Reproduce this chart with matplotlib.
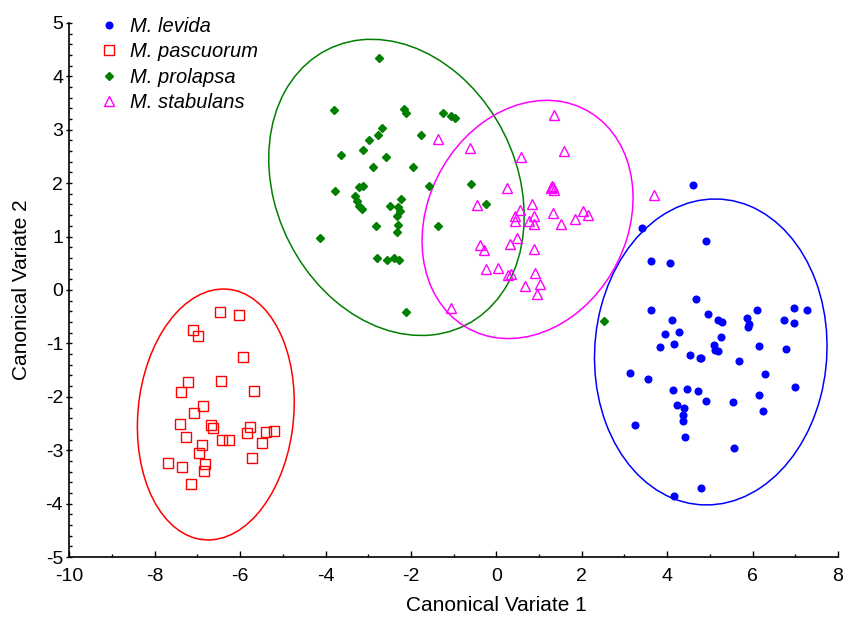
import matplotlib
matplotlib.use('Agg')
import matplotlib.pyplot as plt
from matplotlib.patches import Ellipse
from matplotlib.ticker import MultipleLocator

plt.rcParams['font.family'] = ['Liberation Sans', 'DejaVu Sans']
plt.rcParams['axes.unicode_minus'] = False

# canonical variate scores
levida_x = [4.61, 3.42, 4.90, 3.63, 4.06, 4.67, 3.63, 6.11, 6.97, 7.27, 4.96, 4.12, 5.18,
            5.29, 5.88, 5.92, 5.89, 6.73, 6.98, 3.96, 4.27, 5.25, 3.83, 4.16, 5.10, 5.11,
            5.19, 6.15, 6.78, 4.54, 4.76, 4.79, 5.67, 3.13, 6.28, 3.55, 4.14, 4.47, 4.71,
            6.99, 4.92, 5.55, 6.14, 4.22, 4.40, 6.24, 4.36, 4.36, 3.24, 4.42, 5.57, 4.79, 4.16]
levida_y = [1.96, 1.16, 0.91, 0.55, 0.50, -0.17, -0.38, -0.38, -0.34, -0.38, -0.45, -0.57, -0.57,
            -0.59, -0.52, -0.63, -0.70, -0.56, -0.62, -0.82, -0.78, -0.88, -1.07, -1.01, -1.03, -1.13,
            -1.15, -1.04, -1.10, -1.21, -1.27, -1.27, -1.33, -1.55, -1.57, -1.67, -1.87, -1.85, -1.89,
            -1.81, -2.07, -2.10, -1.97, -2.15, -2.20, -2.27, -2.34, -2.46, -2.52, -2.75, -2.95, -3.71, -3.85]

pascuorum_x = [-6.47, -6.02, -7.10, -6.99, -5.93, -7.22, -6.44, -7.39, -5.68, -6.87, -7.09,
               -7.40, -6.68, -6.64, -5.76, -5.83, -5.40, -5.21, -7.27, -6.43, -6.26, -5.49,
               -6.89, -6.96, -5.72, -7.69, -7.36, -6.82, -6.85, -7.16]
pascuorum_y = [-0.42, -0.47, -0.75, -0.86, -1.25, -1.72, -1.71, -1.90, -1.89, -2.18, -2.30,
               -2.50, -2.52, -2.59, -2.57, -2.67, -2.66, -2.63, -2.75, -2.81, -2.81, -2.86,
               -2.90, -3.05, -3.14, -3.23, -3.31, -3.26, -3.38, -3.64]

prolapsa_x = [-2.74, -3.80, -2.16, -2.12, -1.24, -1.06, -0.98, -2.68, -2.78, -2.98, -1.76,
              -3.12, -3.63, -2.59, -2.90, -1.96, -1.57, -3.79, -3.22, -3.13, -3.30, -3.27,
              -3.21, -3.15, -2.24, -2.49, -2.31, -2.26, -2.33, -2.31, -2.33, -2.81, -1.37,
              -4.12, -2.80, -2.56, -2.39, -2.29, -2.12, -0.59, -0.25, 2.52]
prolapsa_y = [4.35, 3.36, 3.38, 3.32, 3.32, 3.25, 3.22, 3.04, 2.91, 2.80, 2.91,
              2.62, 2.53, 2.49, 2.30, 2.30, 1.95, 1.86, 1.92, 1.95, 1.75, 1.67,
              1.58, 1.52, 1.71, 1.57, 1.55, 1.47, 1.39, 1.22, 1.08, 1.19, 1.20,
              0.97, 0.59, 0.57, 0.60, 0.56, -0.41, 1.98, 1.60, -0.58]

stabulans_x = [1.35, -1.36, -0.61, 1.59, 0.57, 0.26, 1.28, 1.32, 1.35, 1.31, -0.46, 0.83,
               0.56, 0.43, 0.43, 0.89, 0.77, 0.89, 1.33, 1.52, 1.83, 2.02, 2.14, 0.49,
               0.32, -0.38, -0.29, 0.89, -0.25, 0.03, 0.28, 0.35, 0.90, 0.66, 1.03, 0.95,
               -1.06, 3.69]
stabulans_y = [3.27, 2.82, 2.66, 2.61, 2.48, 1.91, 1.90, 1.92, 1.87, 1.95, 1.59, 1.60,
               1.50, 1.39, 1.30, 1.38, 1.29, 1.24, 1.45, 1.24, 1.32, 1.47, 1.40, 0.97,
               0.86, 0.84, 0.74, 0.77, 0.39, 0.41, 0.28, 0.30, 0.31, 0.08, 0.12, -0.08,
               -0.33, 1.78]

# confidence ellipses: centre x, centre y, full width, full height, angle (deg)
ell_levida = [5.02, -1.16, 5.76, 5.41, 71.7]
ell_pascuorum = [-6.57, -2.33, 4.73, 3.63, 79.3]
ell_prolapsa = [-2.34, 1.92, 6.34, 5.13, -34.3]
ell_stabulans = [0.73, 1.32, 5.17, 4.19, 30.2]

fig = plt.figure(figsize=(8.56, 6.17), dpi=100)
ax = fig.add_axes([0.081, 0.097, 0.898, 0.866])

ax.plot(levida_x, levida_y, 'o', color='#0000ff', markersize=4.8, linestyle='none',
        label='M. levida')
ax.plot(pascuorum_x, pascuorum_y, 's', markerfacecolor='none', markeredgecolor='#ff0000',
        markersize=6.5, markeredgewidth=1.0, linestyle='none', label='M. pascuorum')
ax.plot(prolapsa_x, prolapsa_y, 'D', color='#007f00', markersize=4.3, linestyle='none',
        label='M. prolapsa')
ax.plot(stabulans_x, stabulans_y, '^', markerfacecolor='none', markeredgecolor='#ff00ff',
        markersize=6.5, markeredgewidth=1.0, linestyle='none', label='M. stabulans')

for p, c in [(ell_levida, '#0000ff'), (ell_pascuorum, '#ff0000'),
             (ell_prolapsa, '#007f00'), (ell_stabulans, '#ff00ff')]:
    ax.add_patch(Ellipse((p[0], p[1]), p[2], p[3], angle=p[4], fill=False,
                         edgecolor=c, linewidth=1.1))

ax.set_xlim(-10, 8)
ax.set_ylim(-5, 5)
ax.xaxis.set_major_locator(MultipleLocator(2))
ax.xaxis.set_minor_locator(MultipleLocator(1))
ax.yaxis.set_major_locator(MultipleLocator(1))
ax.yaxis.set_minor_locator(MultipleLocator(0.2))
ax.tick_params(axis='x', which='major', direction='in', length=4, width=1, labelsize=14, pad=8)
ax.tick_params(axis='x', which='minor', direction='in', length=2.5, width=1)
ax.tick_params(axis='y', which='major', direction='inout', length=5, width=1, labelsize=14, pad=2)
ax.tick_params(axis='y', which='minor', direction='in', length=2.5, width=1)

for s in ['top', 'right']:
    ax.spines[s].set_visible(False)
for s in ['left', 'bottom']:
    ax.spines[s].set_linewidth(1.2)

ax.set_xlabel('Canonical Variate 1', fontsize=15)
ax.xaxis.set_label_coords(10 / 18, -0.072)
ax.set_ylabel('Canonical Variate 2', fontsize=15)
ax.yaxis.set_label_coords(-0.050, 0.5)

leg = ax.legend(loc='upper left', bbox_to_anchor=(0.02, 1.034), frameon=False,
                fontsize=14.5, handletextpad=0.45, labelspacing=0.32, handlelength=1.2,
                borderaxespad=0.2)
for t in leg.get_texts():
    t.set_fontstyle('italic')

plt.savefig('out.png', dpi=100)
plt.close()
